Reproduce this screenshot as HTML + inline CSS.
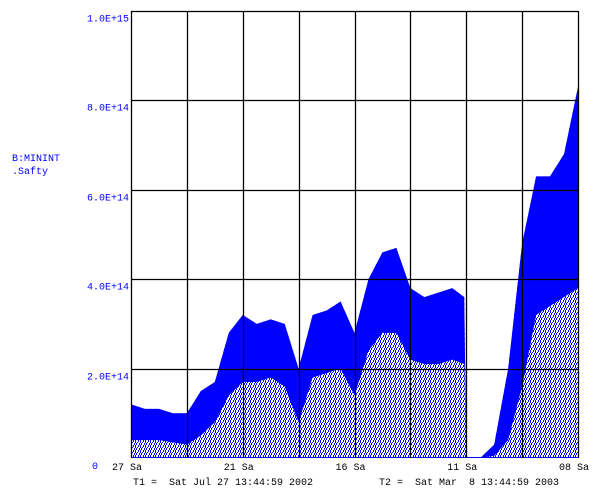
<!DOCTYPE html>
<html><head><meta charset="utf-8"><style>
html,body{margin:0;padding:0;background:#fff;}
svg{display:block;font-family:"Liberation Mono",monospace;font-size:10px;}
</style></head><body>
<svg width="596" height="492">
<defs>
<pattern id="sp" width="5" height="5" patternUnits="userSpaceOnUse">
<rect x="0" y="0" width="1" height="3" fill="#0000ff"/>
<rect x="3" y="0" width="1" height="2" fill="#0000ff"/>
<rect x="2" y="2" width="1" height="1" fill="#0000ff"/>
<rect x="1" y="3" width="1" height="2" fill="#0000ff"/>
<rect x="4" y="3" width="1" height="2" fill="#0000ff"/>
</pattern>
</defs>
<g id="data"></g>
<g id="grid"></g>
<g id="labels"></g>
<text x="12" y="161" fill="#0000ff">B:MININT</text>
<text x="12" y="174" fill="#0000ff">.Safty</text>
<text x="133" y="485" fill="#000" xml:space="preserve">T1 =  Sat Jul 27 13:44:59 2002</text>
<text x="379" y="485" fill="#000" xml:space="preserve">T2 =  Sat Mar  8 13:44:59 2003</text>
</svg>
<script>
// days since T1, step 7
const days = [0,7,14,21,28,35,42,49,56,63,70,77,84,91,98,105,112,119,126,133,140,147,154,161,167,168,175,182,189,196,203,210,217,224];
const topVals = [1.2,1.1,1.1,1.0,1.0,1.5,1.7,2.8,3.2,3.0,3.1,3.0,2.0,3.2,3.3,3.5,2.8,4.0,4.6,4.7,3.8,3.6,3.7,3.8,3.6,0,0,0.3,2.0,4.8,6.3,6.3,6.8,8.3];
const denseVals = [0.4,0.4,0.4,0.35,0.3,0.5,0.8,1.4,1.7,1.7,1.8,1.6,0.8,1.8,1.9,2.0,1.4,2.4,2.8,2.8,2.2,2.1,2.1,2.2,2.1,0,0,0.05,0.4,1.6,3.2,3.4,3.6,3.8];
const yTicks = [0,2,4,6,8,10];
const yTickLabels = ["0","2.0E+14","4.0E+14","6.0E+14","8.0E+14","1.0E+15"];
const xTickDays = [0,56,112,168,224];
const xTickLabels = ["27","21","16","11","08"];
const X0=131,X1=578,Y0=458,Y1=11,DMAX=224,VMAX=10;
const xs=d=>X0+(X1-X0)*d/DMAX, ys=v=>Y0-(Y0-Y1)*v/VMAX;
const NS="http://www.w3.org/2000/svg";
const mk=(t,a,p)=>{const e=document.createElementNS(NS,t);for(const k in a)e.setAttribute(k,a[k]);p.appendChild(e);return e;};
const data=document.getElementById('data'),grid=document.getElementById('grid'),lab=document.getElementById('labels');
let sp="M"+xs(0)+","+Y0;
days.forEach((d,i)=>{sp+=" L"+xs(d)+","+ys(topVals[i]);});
sp+=" L"+xs(DMAX)+","+Y0+"Z";
const a1=mk('path',{d:sp,fill:"url(#sp)"},data);


let band="M"+xs(0)+","+ys(topVals[0]);
days.forEach((d,i)=>{band+=" L"+xs(d)+","+ys(topVals[i]);});
for(let i=days.length-1;i>=0;i--){band+=" L"+xs(days[i])+","+ys(denseVals[i]);}
band+="Z";
const a2=mk('path',{d:band,fill:"#0000ff"},data);


const base=mk('line',{x1:X0,x2:X1,y1:Y0-0.5,y2:Y0-0.5,stroke:"#0000ff","stroke-width":1},data);


for(let i=0;i<=8;i++){const x=Math.round(X0+(X1-X0)*i/8)+0.5;
 const l=mk('line',{x1:x,x2:x,y1:Y1,y2:Y0,stroke:"#000","stroke-width":1.3},grid);
 
 }
yTicks.forEach((v,i)=>{const y=Math.round(ys(v))+0.5;
 if(v>0){const l=mk('line',{x1:X0,x2:X1,y1:y,y2:y,stroke:"#000","stroke-width":1.3},grid);
 
 }
 const t=mk('text',{x:v===0?92:129,y:v===0?469:y+10,fill:"#0000ff","text-anchor":v===0?"start":"end"},lab);
 t.textContent=yTickLabels[i];
 
 });
xTickDays.forEach((d,i)=>{const x=xs(d);
 const t=mk('text',{x:x-19,y:470,fill:"#000"},lab);
 t.textContent=xTickLabels[i]+" Sa";
 
 });
</script>
</body></html>
